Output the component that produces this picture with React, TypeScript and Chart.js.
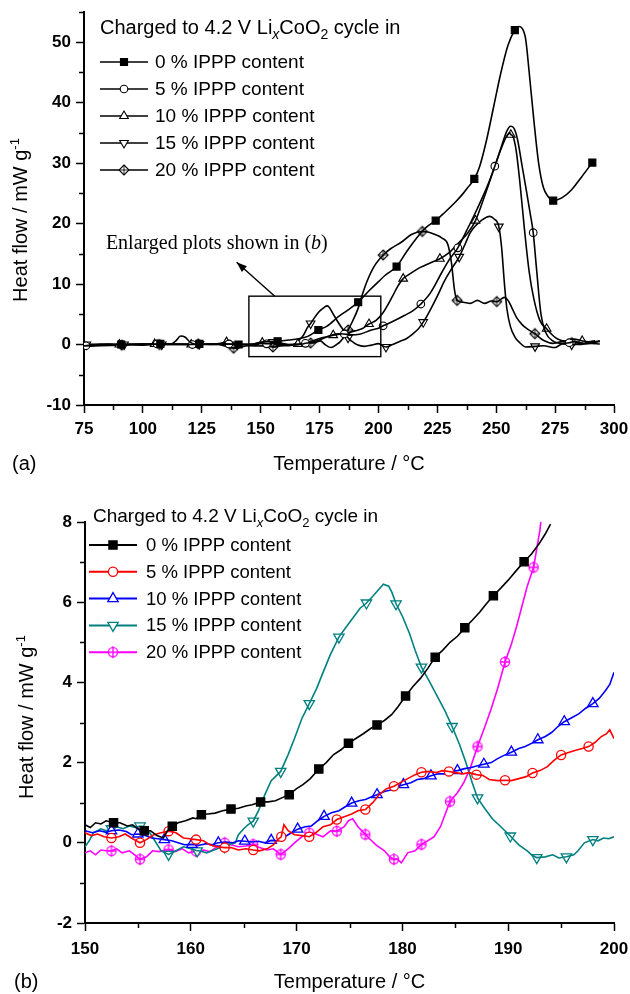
import React, { useEffect, useRef } from 'react';
import { Chart, registerables } from 'chart.js';

Chart.register(...registerables);

type P = [number, number];

const FONT = '"Liberation Sans", Arial, sans-serif';
const SERIF = '"Liberation Serif", "Times New Roman", serif';

// ---------------- shared text ----------------
const SERIES_LABELS = ['0 % IPPP content', '5 % IPPP content', '10 % IPPP content', '15 % IPPP content', '20 % IPPP content'];

// ---------------- Panel (a) data ----------------
const A_X_TICKS = [75, 100, 125, 150, 175, 200, 225, 250, 275, 300];
const A_X_MINOR = [87.5, 112.5, 137.5, 162.5, 187.5, 212.5, 237.5, 262.5, 287.5];
const A_Y_TICKS = [-10, 0, 10, 20, 30, 40, 50];
const A_Y_MINOR = [-5, 5, 15, 25, 35, 45, 55];

const A0_CURVE: P[] = [[75,-0.2],[80,-0.1],[85,0.1],[95,0],[100,-0.1],[112,0.1],[114,0.6],[116,1.4],[118,1.2],[120,0.4],[122,0.1],[130,0],[135,0.1],[146,0],[150,0.4],[153,0.45],[162,0.75],[166,0.95],[170,1.35],[178,3.0],[183,4.6],[187,5.7],[196,8.9],[200,10.4],[203,11.5],[212,15.4],[217,18],[220,19.3],[228,21.8],[233,23.7],[236,25],[238,26],[243,29.5],[246,34],[249,39.5],[252,45],[255,49.5],[259.5,52.6],[261,52.3],[262.5,50.5],[264,45],[266,37],[268,30],[270,26],[272,24.5],[278,24.3],[282,25.6],[286,27.6]];
const A0_MARKS: P[] = [[90.8,0],[107.4,0.1],[124,0.1],[140.6,0],[157.2,0.55],[174.5,2.4],[191.4,7.0],[207.7,12.9],[224.3,20.5],[240.7,27.4],[257.9,52],[274.2,23.8],[290.8,30.1]];

const A5_CURVE: P[] = [[75,-0.2],[80,-0.1],[86,0],[98,0.1],[112,0],[128,0.1],[144,0],[150,0.2],[158,0.25],[163,-0.1],[168,0.1],[175,0.75],[180,1.55],[183,1.78],[188,1.6],[192,1.7],[197,2.4],[200,2.7],[206,3.8],[211,4.8],[215,5.7],[222,8.5],[227,12],[230,14],[237,18.5],[242,22.5],[246,26],[252,32.5],[254.5,35.3],[256.1,36.1],[257.5,35.8],[259,34],[261,29.5],[263,25],[264.5,21.5],[267,13],[269,5],[271,2],[274,0.6],[278,0.2],[283,0.5],[288,0.2],[294,0.5]];
const A5_MARKS: P[] = [[75.8,-0.2],[91,0],[106,0.1],[121,0],[136.5,0.1],[152.5,0.12],[169,0.2],[185.5,1.75],[202,3.1],[218,6.7],[233.7,16],[249.4,29.5],[265.7,18.5],[281,0.3]];

const A10_CURVE: P[] = [[75,0],[82,0.1],[96,0],[112,0.1],[128,0],[133,0.2],[138,0.2],[145,0],[152,0.3],[158,0.05],[163,0],[170,0.34],[175,1.0],[178,1.3],[185,1.8],[190,2.26],[193,2.6],[199,4],[202,5.3],[206,8],[208,9.5],[213,11.6],[218,12.8],[222,13.5],[230,15.2],[234,16.8],[238,18.5],[245,24.5],[249,29],[252,32.3],[254.5,34.5],[255.8,35],[257,34.5],[258.5,32],[260,27],[262,19],[264,12],[266,7.5],[268.5,4],[275,1.2],[279,0.6],[283,0.9],[291,0.4],[294,0.6]];
const A10_MARKS: P[] = [[90,0],[105,0.1],[120.5,0],[135.5,0.4],[150.7,0.3],[165.8,0.1],[180.8,1.55],[196,3.4],[210.5,10.9],[226.1,14.2],[241.2,20.5],[256.2,34.7],[271.4,2.6],[286.5,0.6]];

const A15_CURVE: P[] = [[75,0],[84,-0.1],[100,0.1],[116,0],[132,0.1],[148,0],[152,0.35],[157.5,-0.2],[162,-0.2],[164.5,0.1],[166.5,0.8],[168,1.45],[170,2.9],[172.5,4.25],[175,5.5],[177,6.15],[178.2,6.4],[179,6.2],[180.5,5.25],[183,3.6],[186,1.85],[188.5,0.6],[191,-0.05],[194,-0.3],[197,-0.1],[200,0.15],[206,0],[209,0.5],[212,1.0],[215,1.9],[217,2.6],[221,5],[225,8],[228,10.5],[231,12.5],[237,16.8],[239,18.5],[244,20.6],[247.3,21.2],[249,20.8],[252.3,16],[253.5,10],[254.5,6],[256,3],[258,1.2],[260,0.3],[262.5,-0.4],[270,-0.2],[275,-0.5],[278,0.1],[285,0],[290,0.2],[294,0.1]];
const A15_MARKS: P[] = [[76,0],[92,0],[108,0],[124,0.1],[140,0],[155.2,0.4],[171.2,3.47],[187.1,1.12],[203.2,-0.4],[219,3.7],[234.3,14.5],[251.1,19.5],[266.5,-0.3],[282,0]];

const A20_CURVE: P[] = [[75,-0.3],[82,-0.2],[98,0],[115,0.1],[132,0],[145,-0.2],[150,-0.25],[153,-0.2],[158,-0.22],[163,0],[168.5,-0.29],[170,0.1],[173,0.3],[175.3,0.6],[177.5,-0.05],[179.9,-0.5],[182.4,0.05],[183.6,0.4],[186,1.6],[189,3.85],[191.3,5.9],[193.2,8.3],[195,10.3],[198,12.8],[205,15.8],[210,17],[214,18.2],[221,18.6],[224,18.2],[227,17.6],[229.5,16.5],[231,13.5],[232.3,9],[236,7],[239,6.8],[242,7.3],[245,6.8],[248,7.2],[253.5,7.8],[255,7.3],[256.5,6.2],[258.6,4.5],[261,3.3],[263.5,2.5],[270,0.7],[274,0.2],[278,0.5],[286,0.3],[292,0.6]];
const A20_MARKS: P[] = [[91,-0.1],[107,0],[123.5,0.1],[138.5,-0.6],[155.2,-0.4],[171.2,0.25],[187.1,2.4],[202,14.8],[218.6,18.7],[233.4,7.3],[250.2,7.1],[266.4,1.8],[282,0.3]];

// zoom box (x0, x1, y0, y1) and arrow (from, to) in data units of panel (a)
const A_BOX = [145, 201, -2, 8];
const A_ARROW: P[] = [[156, 8], [139.8, 13.6]];
const A_NOTE_AT: P = [84.3, 16.6];

// ---------------- Panel (b) data ----------------
const B_X_TICKS = [150, 160, 170, 180, 190, 200];
const B_X_MINOR = [155, 165, 175, 185, 195];
const B_Y_TICKS = [-2, 0, 2, 4, 6, 8];
const B_Y_MINOR = [-1, 1, 3, 5, 7];

const B0_CURVE: P[] = [[150,0.45],[150.5,0.38],[151,0.5],[151.5,0.47],[152,0.55],[153.3,0.5],[154,0.42],[154.5,0.45],[155,0.35],[156.2,0.3],[156.8,0.18],[157.4,0.12],[157.8,0.3],[158.8,0.5],[159.5,0.55],[160.2,0.62],[160.5,0.6],[161.6,0.72],[162.3,0.74],[163,0.8],[164.5,0.86],[165.2,0.92],[165.8,0.95],[167.3,1.02],[168,1.05],[168.6,1.12],[170,1.35],[170.6,1.45],[171.3,1.6],[172.8,2.0],[173.5,2.2],[174.2,2.32],[175.6,2.6],[176.3,2.72],[177,2.85],[178.3,3.05],[179,3.2],[179.6,3.4],[181,3.9],[181.7,4.1],[182.4,4.35],[183.8,4.8],[184.5,5.0],[185.2,5.15],[186.6,5.55],[187.3,5.75],[187.9,5.95],[189.3,6.35],[190,6.55],[190.8,6.8],[192.2,7.2],[192.9,7.45],[193.5,7.7],[194,7.95]];
const B0_MARKS: P[] = [[152.7,0.5],[155.6,0.3],[158.25,0.41],[161.0,0.7],[163.8,0.84],[166.6,1.02],[169.3,1.2],[172.1,1.84],[174.9,2.48],[177.6,2.94],[180.3,3.66],[183.1,4.63],[185.9,5.36],[188.6,6.16],[191.5,7.01]];

const B5_CURVE: P[] = [[150,0.25],[150.6,0.18],[151.2,0.22],[151.8,0.15],[153.2,0.15],[153.8,0.22],[154.5,0.1],[155.8,0.08],[156.5,0.2],[157.2,0.25],[158.6,0.25],[159.3,0.12],[159.9,0.1],[161.2,0.05],[161.8,-0.05],[162.5,-0.1],[163.8,-0.12],[164.5,-0.18],[165.2,-0.15],[166.5,-0.2],[167.2,-0.15],[167.8,-0.05],[168.3,0.1],[168.8,0.45],[169.2,0.3],[169.8,0.2],[170.5,0.18],[171.8,0.25],[172.5,0.4],[173.2,0.45],[174.5,0.65],[175.2,0.72],[175.8,0.8],[177.2,1.0],[177.8,1.2],[178.5,1.35],[179.8,1.5],[180.5,1.6],[181.2,1.7],[182.5,1.78],[183.2,1.75],[183.8,1.8],[185,1.75],[185.7,1.72],[186.3,1.75],[187.6,1.68],[188.2,1.58],[189,1.55],[190.3,1.55],[191,1.6],[191.7,1.65],[193,1.8],[193.7,1.9],[194.3,2.05],[195.7,2.25],[196.3,2.3],[197,2.35],[198.2,2.5],[198.8,2.65],[199.3,2.72],[199.6,2.82],[200,2.6]];
const B5_MARKS: P[] = [[152.5,0.12],[155.2,0.0],[157.9,0.29],[160.5,0.08],[163.2,-0.12],[165.9,-0.18],[168.55,0.15],[171.2,0.15],[173.8,0.58],[176.5,0.83],[179.2,1.41],[181.8,1.76],[184.4,1.78],[187,1.7],[189.7,1.56],[192.3,1.74],[195,2.19],[197.6,2.4]];

const B10_CURVE: P[] = [[150,0.3],[150.7,0.25],[151.4,0.3],[152,0.26],[153.2,0.32],[153.9,0.28],[154.4,0.2],[155.7,0.18],[156.3,0.12],[156.9,0.1],[158.2,0.05],[158.8,0.0],[159.4,-0.05],[160.8,-0.06],[161.5,-0.02],[162,-0.05],[163.3,0.02],[164,0.0],[164.5,0.05],[165.8,0.02],[166.4,0.04],[167,0.0],[168.3,0.05],[168.9,0.15],[169.5,0.25],[170.8,0.4],[171.4,0.42],[172,0.55],[173.3,0.75],[174,0.8],[174.6,0.9],[175.9,1.05],[176.5,1.08],[177.1,1.15],[178.3,1.28],[179,1.32],[179.5,1.4],[180.8,1.5],[181.4,1.58],[182,1.6],[183.4,1.72],[184,1.72],[184.6,1.78],[185.9,1.85],[186.5,1.88],[187.1,1.92],[188.4,2.0],[189,2.1],[189.6,2.18],[191,2.35],[191.6,2.4],[192.2,2.48],[193.5,2.65],[194.1,2.75],[194.7,2.9],[196,3.12],[196.7,3.22],[197.3,3.35],[198.6,3.6],[199.2,3.8],[199.6,3.95],[200,4.25]];
const B10_MARKS: P[] = [[152.5,0.3],[155,0.22],[157.5,0.08],[160.1,-0.04],[162.6,0.0],[165.1,0.04],[167.6,0.06],[170.1,0.34],[172.6,0.66],[175.2,0.99],[177.6,1.2],[180.1,1.45],[182.7,1.67],[185.2,1.8],[187.7,1.96],[190.3,2.26],[192.8,2.57],[195.3,3.02],[198,3.47]];

const B15_CURVE: P[] = [[150,-0.1],[150.4,0.05],[150.8,0.25],[151.5,0.35],[152,0.3],[153,0.4],[153.6,0.35],[154.2,0.42],[154.8,0.38],[155.7,0.4],[156,0.3],[156.6,0.05],[157.2,-0.2],[158.6,-0.2],[159.3,-0.1],[160,-0.15],[160.8,-0.2],[161.5,-0.25],[162,-0.2],[163,-0.1],[163.6,-0.05],[164.2,0.0],[164.5,0.2],[165,0.35],[165.4,0.45],[166.4,0.8],[167,1.2],[167.6,1.55],[169.2,2.2],[169.8,2.6],[170.5,3.1],[171.9,3.85],[172.5,4.25],[173.2,4.7],[174.6,5.35],[175.3,5.6],[176,5.85],[177.2,6.15],[177.7,6.3],[178.2,6.45],[178.7,6.4],[179,6.25],[180,5.65],[180.7,5.2],[181.2,4.8],[182.5,4.05],[183.2,3.7],[184,3.3],[185.4,2.45],[186,2.0],[186.6,1.5],[187.8,0.85],[188.5,0.6],[189.3,0.4],[191,-0.05],[191.8,-0.2],[192.2,-0.3],[193.5,-0.35],[194.2,-0.3],[194.8,-0.38],[196.2,-0.3],[196.6,-0.2],[197.2,0.0],[198.5,0.05],[199,0.12],[199.5,0.1],[200,0.15]];
const B15_MARKS: P[] = [[152.5,0.35],[155.2,0.42],[157.9,-0.29],[160.6,-0.2],[163.2,-0.1],[165.9,0.54],[168.5,1.78],[171.2,3.47],[174,5.13],[176.6,5.98],[179.4,5.96],[181.8,4.38],[184.7,2.9],[187.1,1.12],[190.2,0.17],[192.7,-0.37],[195.5,-0.35],[198,0.08]];

const B20_CURVE: P[] = [[150,-0.25],[150.5,-0.2],[151,-0.3],[151.5,-0.18],[152,-0.2],[153,-0.15],[153.5,-0.25],[154.2,-0.2],[154.7,-0.3],[155.8,-0.35],[156.4,-0.2],[157,-0.22],[158.5,-0.22],[159.2,-0.15],[159.8,-0.25],[161.2,-0.18],[161.8,-0.22],[162.5,-0.1],[163.8,-0.05],[164.5,-0.1],[165.2,-0.08],[166.5,-0.12],[167.2,-0.18],[167.8,-0.15],[169.2,-0.15],[169.8,0.0],[170.5,0.15],[171.8,0.22],[172.5,0.15],[173.2,0.3],[174.5,0.4],[174.9,0.55],[175.3,0.6],[175.8,0.4],[176.9,0.1],[177.5,-0.05],[178.3,-0.2],[178.8,-0.35],[179.5,-0.4],[179.9,-0.5],[180.5,-0.25],[181.2,-0.2],[182.4,0.05],[183,0.15],[183.6,0.4],[185.2,1.25],[185.8,1.5],[186.4,1.85],[187.8,2.9],[188.4,3.35],[189,3.85],[190.3,4.95],[190.8,5.4],[191.3,5.9],[191.8,6.4],[193,7.8],[193.2,8.3]];
const B20_MARKS: P[] = [[152.5,-0.2],[155.2,-0.41],[157.9,-0.17],[160.5,-0.21],[163.2,0.0],[165.9,-0.04],[168.5,-0.29],[171.2,0.25],[173.8,0.29],[176.5,0.21],[179.2,-0.41],[181.8,-0.04],[184.5,1.03],[187.1,2.4],[189.7,4.51],[192.4,6.87]];

// ---------------- helpers ----------------
type Kind = 'square' | 'circle' | 'up' | 'down' | 'cross';

interface SeriesSpec { curve: P[]; marks: P[]; color: string; kind: Kind; r: number; }

function makeCrossMarker(r: number, color: string, lw: number, diamond: boolean): HTMLCanvasElement {
  const pad = 3;
  const size = Math.ceil(2 * (r + pad));
  const c = document.createElement('canvas');
  c.width = size; c.height = size;
  const g = c.getContext('2d')!;
  const h = size / 2;
  g.lineWidth = lw; g.strokeStyle = color; g.fillStyle = '#fff';
  g.beginPath();
  if (diamond) { g.moveTo(h, h - r); g.lineTo(h + r, h); g.lineTo(h, h + r); g.lineTo(h - r, h); g.closePath(); }
  else g.arc(h, h, r, 0, Math.PI * 2);
  g.fill(); g.stroke();
  const ext = diamond ? 0 : 1.5;
  g.lineWidth = diamond ? lw * 0.8 : lw;
  g.beginPath();
  g.moveTo(h, h - r - ext); g.lineTo(h, h + r + ext);
  g.moveTo(h - r, h); g.lineTo(h + r, h);
  g.stroke();
  return c;
}

function merged(curve: P[], marks: P[]) {
  const all = [...curve, ...marks].sort((a, b) => a[0] - b[0]);
  const out: { x: number; y: number }[] = [];
  for (const [x, y] of all) {
    if (out.length && Math.abs(out[out.length - 1].x - x) < 1e-9) continue;
    out.push({ x, y });
  }
  return out;
}

interface Seg { t: string; s: number; f?: string; it?: boolean; b?: boolean; dy?: number; }

function segFont(sg: Seg) {
  return `${sg.it ? 'italic ' : ''}${sg.b ? 'bold ' : ''}${sg.s}px ${sg.f || FONT}`;
}
function richWidth(ctx: CanvasRenderingContext2D, segs: Seg[]) {
  let w = 0;
  for (const sg of segs) { ctx.font = segFont(sg); w += ctx.measureText(sg.t).width; }
  return w;
}
function drawRich(ctx: CanvasRenderingContext2D, segs: Seg[], x: number, y: number, align: 'left' | 'center' = 'left', baseline: CanvasTextBaseline = 'alphabetic') {
  let cx = align === 'center' ? x - richWidth(ctx, segs) / 2 : x;
  ctx.textAlign = 'left';
  ctx.textBaseline = baseline;
  for (const sg of segs) {
    ctx.font = segFont(sg);
    ctx.fillText(sg.t, cx, y + (sg.dy || 0));
    cx += ctx.measureText(sg.t).width;
  }
}

function drawMarker(ctx: CanvasRenderingContext2D, kind: Kind, x: number, y: number, r: number, color: string, lw: number, img?: HTMLCanvasElement) {
  ctx.save();
  ctx.lineWidth = lw; ctx.strokeStyle = color; ctx.fillStyle = '#fff';
  if (kind === 'cross' && img) {
    ctx.drawImage(img, x - img.width / 2, y - img.height / 2);
    ctx.restore();
    return;
  }
  ctx.beginPath();
  if (kind === 'square') {
    const s = r * Math.SQRT1_2;
    ctx.fillStyle = color;
    ctx.rect(x - s, y - s, 2 * s, 2 * s);
  } else if (kind === 'circle') {
    ctx.arc(x, y, r, 0, Math.PI * 2);
  } else {
    let rad = kind === 'down' ? Math.PI : 0;
    ctx.moveTo(x + Math.sin(rad) * r, y - Math.cos(rad) * r);
    rad += (2 * Math.PI) / 3;
    ctx.lineTo(x + Math.sin(rad) * r, y - Math.cos(rad) * r);
    rad += (2 * Math.PI) / 3;
    ctx.lineTo(x + Math.sin(rad) * r, y - Math.cos(rad) * r);
    ctx.closePath();
  }
  ctx.fill(); ctx.stroke();
  ctx.restore();
}

interface PanelSpec {
  width: number; height: number;
  area: { left: number; right: number; top: number; bottom: number };
  xMin: number; xMax: number; yMin: number; yMax: number;
  xTicks: number[]; xMinor: number[]; yTicks: number[]; yMinor: number[];
  series: SeriesSpec[];
  smooth: boolean;
  lineWidth: number;
  markerLw: number;
  xLabelPad: number;
  deco: (ctx: CanvasRenderingContext2D, chart: any, imgs: (HTMLCanvasElement | undefined)[]) => void;
  crossDiamond: boolean;
}

function buildChart(canvas: HTMLCanvasElement, spec: PanelSpec) {
  const imgs = spec.series.map((s) => (s.kind === 'cross' ? makeCrossMarker(s.r, s.color, spec.markerLw, spec.crossDiamond) : undefined));
  const datasets: any[] = [];
  spec.series.forEach((s, i) => {
    datasets.push({
      data: merged(s.curve, s.marks),
      borderColor: s.color,
      borderWidth: spec.lineWidth,
      pointRadius: 0,
      pointHoverRadius: 0,
      fill: false,
      tension: spec.smooth ? 0.4 : 0,
      cubicInterpolationMode: spec.smooth ? 'monotone' : 'default',
    });
    const style = s.kind === 'square' ? 'rect' : s.kind === 'circle' ? 'circle' : s.kind === 'cross' ? imgs[i] : 'triangle';
    datasets.push({
      data: s.marks.map(([x, y]) => ({ x, y })),
      showLine: false,
      borderColor: s.color,
      pointStyle: style,
      pointRotation: s.kind === 'down' ? 180 : 0,
      pointRadius: s.r,
      pointHoverRadius: s.r,
      pointBorderColor: s.color,
      pointBackgroundColor: s.kind === 'square' ? s.color : '#fff',
      pointBorderWidth: spec.markerLw,
    });
  });

  const tickFont = { family: FONT, size: 17, weight: 'bold' as const };
  const a = spec.area;

  const deco = {
    id: 'deco',
    afterDraw(chart: any) {
      const ctx: CanvasRenderingContext2D = chart.ctx;
      const xs = chart.scales.x, ys = chart.scales.y;
      const ca = chart.chartArea;
      ctx.save();
      ctx.strokeStyle = '#000';
      ctx.lineWidth = 1.5;
      ctx.beginPath();
      spec.xMinor.forEach((v) => { const px = Math.round(xs.getPixelForValue(v)) + 0.5; ctx.moveTo(px, ca.bottom); ctx.lineTo(px, ca.bottom + 5); });
      spec.yMinor.forEach((v) => { const py = Math.round(ys.getPixelForValue(v)) + 0.5; ctx.moveTo(ca.left, py); ctx.lineTo(ca.left - 5, py); });
      ctx.stroke();
      ctx.fillStyle = '#000';
      spec.deco(ctx, chart, imgs);
      ctx.restore();
    },
  };

  return new Chart(canvas, {
    type: 'line',
    data: { datasets },
    plugins: [deco],
    options: {
      animation: false,
      responsive: false,
      devicePixelRatio: 1,
      events: [],
      layout: { padding: { left: 0, right: spec.width - a.right, top: a.top, bottom: 0 } },
      plugins: { legend: { display: false }, tooltip: { enabled: false } },
      scales: {
        x: {
          type: 'linear', min: spec.xMin, max: spec.xMax,
          afterBuildTicks: (s: any) => { s.ticks = spec.xTicks.map((v) => ({ value: v })); },
          afterFit: (s: any) => { s.height = spec.height - a.bottom; s.paddingLeft = 0; s.paddingRight = 0; },
          grid: { drawOnChartArea: false, drawTicks: true, tickLength: 8, tickColor: '#000', tickWidth: 1.5 },
          border: { display: true, color: '#000', width: 2 },
          ticks: { color: '#000', font: tickFont, padding: spec.xLabelPad, maxRotation: 0, autoSkip: false, callback: (v: any) => String(v) },
        },
        y: {
          type: 'linear', min: spec.yMin, max: spec.yMax,
          afterBuildTicks: (s: any) => { s.ticks = spec.yTicks.map((v) => ({ value: v })); },
          afterFit: (s: any) => { s.width = a.left; s.paddingTop = 0; s.paddingBottom = 0; },
          grid: { drawOnChartArea: false, drawTicks: true, tickLength: 8, tickColor: '#000', tickWidth: 1.5 },
          border: { display: true, color: '#000', width: 2 },
          ticks: { color: '#000', font: tickFont, padding: 5, autoSkip: false, callback: (v: any) => String(v) },
        },
      },
    } as any,
  });
}

function drawLegend(ctx: CanvasRenderingContext2D, series: SeriesSpec[], imgs: (HTMLCanvasElement | undefined)[], o: { head: Seg[]; hx: number; hy: number; lx0: number; lx1: number; tx: number; y0: number; dy: number; fs: number; lw: number; mlw: number }) {
  ctx.fillStyle = '#000';
  drawRich(ctx, o.head, o.hx, o.hy);
  series.forEach((s, i) => {
    const cy = o.y0 + i * o.dy;
    ctx.save();
    ctx.strokeStyle = s.color; ctx.lineWidth = o.lw;
    ctx.beginPath(); ctx.moveTo(o.lx0, cy); ctx.lineTo(o.lx1, cy); ctx.stroke();
    ctx.restore();
    drawMarker(ctx, s.kind, (o.lx0 + o.lx1) / 2, cy, s.r, s.color, o.mlw, imgs[i]);
    ctx.fillStyle = '#000';
    ctx.font = `${o.fs}px ${FONT}`;
    ctx.textAlign = 'left';
    ctx.textBaseline = 'middle';
    ctx.fillText(SERIES_LABELS[i], o.tx, cy + 1);
  });
}

function drawYTitle(ctx: CanvasRenderingContext2D, x: number, cy: number) {
  const segs: Seg[] = [{ t: 'Heat flow / mW g', s: 20 }, { t: '-1', s: 13, dy: -8 }];
  ctx.save();
  ctx.translate(x, cy);
  ctx.rotate(-Math.PI / 2);
  ctx.fillStyle = '#000';
  drawRich(ctx, segs, 0, 0, 'center');
  ctx.restore();
}

const A_SERIES: SeriesSpec[] = [
  { curve: A0_CURVE, marks: A0_MARKS, color: '#000', kind: 'square', r: 5 },
  { curve: A5_CURVE, marks: A5_MARKS, color: '#000', kind: 'circle', r: 3.8 },
  { curve: A10_CURVE, marks: A10_MARKS, color: '#000', kind: 'up', r: 5 },
  { curve: A15_CURVE, marks: A15_MARKS, color: '#000', kind: 'down', r: 5 },
  { curve: A20_CURVE, marks: A20_MARKS, color: '#000', kind: 'cross', r: 5 },
];

const B_SERIES: SeriesSpec[] = [
  { curve: B0_CURVE, marks: B0_MARKS, color: '#000000', kind: 'square', r: 5.8 },
  { curve: B5_CURVE, marks: B5_MARKS, color: '#ff0000', kind: 'circle', r: 4.6 },
  { curve: B10_CURVE, marks: B10_MARKS, color: '#0000ff', kind: 'up', r: 6 },
  { curve: B15_CURVE, marks: B15_MARKS, color: '#008080', kind: 'down', r: 6 },
  { curve: B20_CURVE, marks: B20_MARKS, color: '#ff00ff', kind: 'cross', r: 4.6 },
];

const headA: Seg[] = [{ t: 'Charged to 4.2 V Li', s: 20 }, { t: 'x', s: 14, it: true, dy: 5 }, { t: 'CoO', s: 20 }, { t: '2', s: 14, dy: 5 }, { t: ' cycle in', s: 20 }];
const headB: Seg[] = [{ t: 'Charged to 4.2 V Li', s: 19 }, { t: 'x', s: 13, it: true, dy: 5 }, { t: 'CoO', s: 19 }, { t: '2', s: 13, dy: 5 }, { t: ' cycle in', s: 19 }];

const SPEC_A: PanelSpec = {
  width: 630, height: 480,
  area: { left: 84, right: 614, top: 12, bottom: 405 },
  xMin: 75, xMax: 300, yMin: -10, yMax: 55,
  xTicks: A_X_TICKS, xMinor: A_X_MINOR, yTicks: A_Y_TICKS, yMinor: A_Y_MINOR,
  series: A_SERIES, smooth: true, lineWidth: 1.6, markerLw: 1.1, crossDiamond: true, xLabelPad: 6,
  deco: (ctx, chart, imgs) => {
    const xs = chart.scales.x, ys = chart.scales.y, ca = chart.chartArea;
    // zoom box
    const bx0 = xs.getPixelForValue(A_BOX[0]), bx1 = xs.getPixelForValue(A_BOX[1]);
    const by0 = ys.getPixelForValue(A_BOX[2]), by1 = ys.getPixelForValue(A_BOX[3]);
    ctx.strokeStyle = '#000'; ctx.lineWidth = 1.4;
    ctx.strokeRect(bx0, by1, bx1 - bx0, by0 - by1);
    // arrow
    const ax0 = xs.getPixelForValue(A_ARROW[0][0]), ay0 = ys.getPixelForValue(A_ARROW[0][1]);
    const ax1 = xs.getPixelForValue(A_ARROW[1][0]), ay1 = ys.getPixelForValue(A_ARROW[1][1]);
    ctx.beginPath(); ctx.moveTo(ax0, ay0); ctx.lineTo(ax1, ay1); ctx.stroke();
    const ang = Math.atan2(ay1 - ay0, ax1 - ax0);
    ctx.beginPath();
    ctx.moveTo(ax1, ay1);
    ctx.lineTo(ax1 - 11 * Math.cos(ang - 0.35), ay1 - 11 * Math.sin(ang - 0.35));
    ctx.lineTo(ax1 - 11 * Math.cos(ang + 0.35), ay1 - 11 * Math.sin(ang + 0.35));
    ctx.closePath(); ctx.fillStyle = '#000'; ctx.fill();
    // annotation
    drawRich(ctx, [{ t: 'Enlarged plots shown in (', s: 20, f: SERIF }, { t: 'b', s: 20, f: SERIF, it: true }, { t: ')', s: 20, f: SERIF }], xs.getPixelForValue(A_NOTE_AT[0]), ys.getPixelForValue(A_NOTE_AT[1]), 'left', 'middle');
    // legend
    drawLegend(ctx, A_SERIES, imgs, { head: headA, hx: 100, hy: 34, lx0: 100, lx1: 148, tx: 155, y0: 62, dy: 27, fs: 19, lw: 1.6, mlw: 1.1 });
    // axis titles
    drawYTitle(ctx, 27, 220);
    ctx.fillStyle = '#000';
    drawRich(ctx, [{ t: 'Temperature / °C', s: 20 }], (ca.left + ca.right) / 2, 470, 'center');
    drawRich(ctx, [{ t: '(a)', s: 20 }], 12, 470);
  },
};

const SPEC_B: PanelSpec = {
  width: 630, height: 514,
  area: { left: 85, right: 614, top: 42, bottom: 443 },
  xMin: 150, xMax: 200, yMin: -2, yMax: 8,
  xTicks: B_X_TICKS, xMinor: B_X_MINOR, yTicks: B_Y_TICKS, yMinor: B_Y_MINOR,
  series: B_SERIES, smooth: false, lineWidth: 1.6, markerLw: 1.3, crossDiamond: false, xLabelPad: 8,
  deco: (ctx, chart, imgs) => {
    const ca = chart.chartArea;
    drawLegend(ctx, B_SERIES, imgs, { head: headB, hx: 93, hy: 42, lx0: 89, lx1: 137, tx: 146, y0: 65, dy: 26.8, fs: 18.5, lw: 2, mlw: 1.3 });
    drawYTitle(ctx, 33, 237);
    ctx.fillStyle = '#000';
    drawRich(ctx, [{ t: 'Temperature / °C', s: 20 }], (ca.left + ca.right) / 2, 508, 'center');
    drawRich(ctx, [{ t: '(b)', s: 20 }], 14, 508);
  },
};

export default function App() {
  const refA = useRef<HTMLCanvasElement>(null);
  const refB = useRef<HTMLCanvasElement>(null);
  useEffect(() => {
    const ca = buildChart(refA.current!, SPEC_A);
    const cb = buildChart(refB.current!, SPEC_B);
    return () => { ca.destroy(); cb.destroy(); };
  }, []);
  return (
    <div style={{ position: 'absolute', left: 0, top: 0, width: 630, height: 994, background: '#fff' }}>
      <canvas ref={refA} width={630} height={480} style={{ position: 'absolute', left: 0, top: 0, width: 630, height: 480 }} />
      <canvas ref={refB} width={630} height={514} style={{ position: 'absolute', left: 0, top: 480, width: 630, height: 514 }} />
    </div>
  );
}
